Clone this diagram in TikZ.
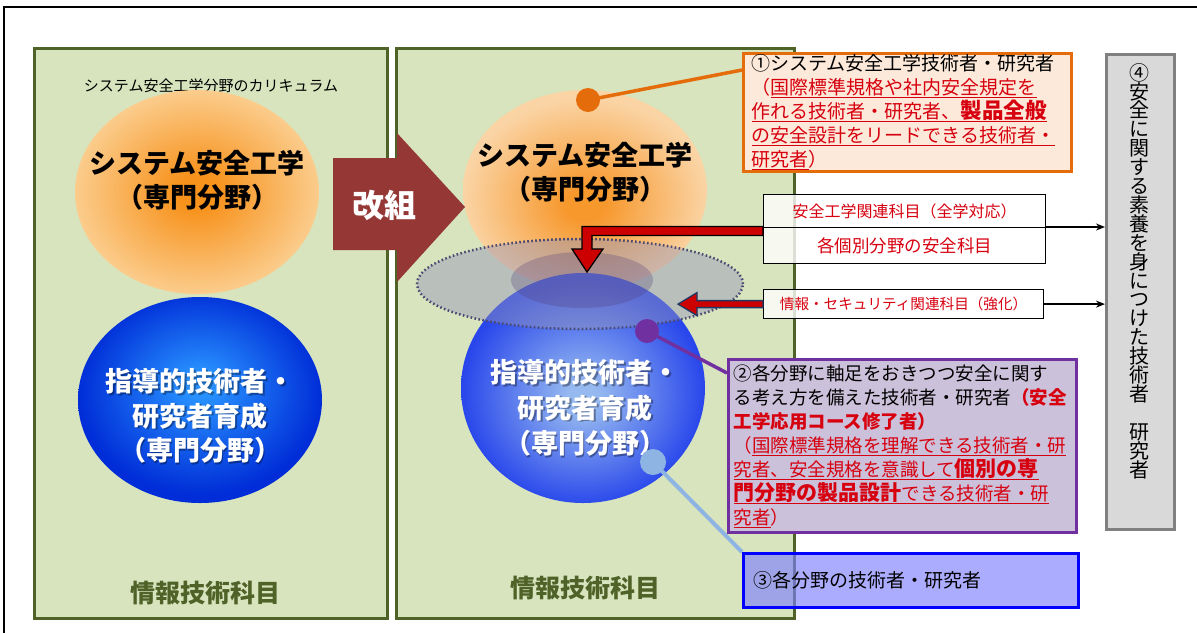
\documentclass[tikz,border=0pt]{standalone}
\usepackage{fontspec}
\setmainfont{Noto Sans CJK JP}
\usetikzlibrary{arrows.meta,calc,shapes.geometric}
\newcommand\myul[1]{\leavevmode\setbox0\hbox{#1}\rlap{\rule[-3.5pt]{\wd0}{1.1pt}}\box0}
\definecolor{pfill}{RGB}{215,228,189}
\definecolor{pborder}{RGB}{79,98,40}
\definecolor{kred}{RGB}{149,55,53}
\definecolor{oline}{RGB}{228,108,10}
\definecolor{obox}{RGB}{253,233,217}
\definecolor{purp}{RGB}{112,48,160}
\definecolor{pbox}{RGB}{204,193,218}
\definecolor{lblue}{RGB}{142,180,227}
\definecolor{bbox}{RGB}{128,128,255}
\definecolor{gfill}{RGB}{217,217,217}
\definecolor{gline}{RGB}{128,128,128}
\definecolor{tred}{RGB}{215,0,15}
\definecolor{arred}{RGB}{204,0,0}
\definecolor{navy}{RGB}{31,56,100}
\definecolor{oin}{RGB}{247,146,28}
\definecolor{oout}{RGB}{251,204,140}
\definecolor{oinb}{RGB}{247,152,45}
\definecolor{ooutb}{RGB}{250,212,165}
\definecolor{bin}{RGB}{40,145,255}
\definecolor{bout}{RGB}{0,45,215}
\definecolor{binb}{RGB}{150,185,240}
\definecolor{boutb}{RGB}{40,70,235}
\pgfdeclareradialshading{oball}{\pgfpoint{0bp}{0bp}}{color(0bp)=(oin); color(4bp)=(oin); color(25bp)=(oout); color(50bp)=(oout)}
\pgfdeclareradialshading{oballb}{\pgfpoint{0bp}{-4bp}}{color(0bp)=(oinb); color(4bp)=(oinb); color(25bp)=(ooutb); color(50bp)=(ooutb)}
\pgfdeclareradialshading{bball}{\pgfpoint{0bp}{4bp}}{color(0bp)=(bin); color(3bp)=(bin); color(25bp)=(bout); color(50bp)=(bout)}
\pgfdeclareradialshading{bballb}{\pgfpoint{0bp}{-2bp}}{color(0bp)=(binb); color(3bp)=(binb); color(25bp)=(boutb); color(50bp)=(boutb)}
\begin{document}
\lineskiplimit=-50pt
\begin{tikzpicture}[x=1pt,y=-1pt,
  panel/.style={draw=pborder, line width=3pt, fill=pfill, anchor=north west, inner sep=0},
  ball/.style={ellipse, inner sep=0, shade},
  dotnode/.style={circle, inner sep=0, minimum size=24pt},
  bigtxt/.style={align=center, font=\bfseries\fontsize{27}{34}\selectfont},
  wtxt/.style={align=center, text=white, font=\bfseries\fontsize{27}{34.5}\selectfont},
  shtxt/.style={align=center, text=black, text opacity=0.35, font=\bfseries\fontsize{27}{34.5}\selectfont},
  ptxt/.style={text=pborder, font=\bfseries\fontsize{25}{30}\selectfont},
  subj/.style={draw=black, line width=1.2pt, fill=white, fill opacity=0.8, text opacity=1, text=tred, inner sep=0, anchor=north west},
  infobox/.style={anchor=north west, line width=3pt, align=left, inner ysep=0, font=\fontsize{19}{24}\selectfont},
  conn/.style={line width=3.5pt}
]
\useasboundingbox (0,0) rectangle (1197,633);
\draw[line width=2pt] (4,633) -- (4,7) -- (1197,7);

% panels
\node[panel, minimum width=353, minimum height=570] (lpanel) at (33,47) {};
\node[panel, minimum width=398, minimum height=570] (mpanel) at (395,47) {};

% left panel
\node[font=\fontsize{15}{18}\selectfont] (cap) at (211,86) {システム安全工学分野のカリキュラム};
\node[ball, shading=oball, minimum width=244, minimum height=204] (lorange) at (197,192) {};
\node[bigtxt] (lotext) at (197,180) {システム安全工学\\（専門分野）};
\node[ball, shading=bball, minimum width=244, minimum height=206] (lblueb) at (200,400) {};
\node[shtxt] (lbsh) at (201.5,417.5) {指導的技術者・\\研究者育成\\（専門分野）};
\node[wtxt] (lbtext) at (200,416) {指導的技術者・\\研究者育成\\（専門分野）};
\node[ptxt] (linfo) at (205,593) {情報技術科目};

% middle panel circles
\node[ball, shading=oballb, minimum width=244, minimum height=200] (morange) at (585,190) {};
\node[ball, shading=bballb, minimum width=244, minimum height=230] (mblue) at (583,388) {};
\node[ellipse, fill={rgb,255:red,150;green,150;blue,185}, fill opacity=0.45, draw={rgb,255:red,75;green,75;blue,115}, draw opacity=1, line width=2.5pt, dash pattern=on 1.6pt off 2.4pt, minimum width=326, minimum height=90, inner sep=0] (dotell) at (580,284) {};
\node[ellipse, fill={rgb,255:red,80;green,60;blue,120}, fill opacity=0.28, minimum width=142, minimum height=56, inner sep=0] (overlap) at (582,280) {};
\node[bigtxt] (motext) at (585,172.5) {システム安全工学\\（専門分野）};
\node[shtxt, font=\bfseries\fontsize{27}{35.5}\selectfont] (mbsh) at (586.5,409.5) {指導的技術者・\\研究者育成\\（専門分野）};
\node[wtxt, font=\bfseries\fontsize{27}{35.5}\selectfont] (mbtext) at (585,408) {指導的技術者・\\研究者育成\\（専門分野）};
\node[ptxt] (minfo) at (585,588) {情報技術科目};

% kaiso arrow
\fill[kred] (333,158) -- (397,158) -- (397,133) -- (465,207) -- (397,282) -- (397,250) -- (333,250) -- cycle;
\node[text=white, font=\bfseries\fontsize{32}{36}\selectfont] (kaiso) at (384,205) {改組};

% subject boxes
\node[subj, minimum width=282, minimum height=33, font=\fontsize{16}{20}\selectfont] (boxA) at (763,194) {安全工学関連科目（全学対応）};
\node[subj, minimum width=282, minimum height=36, font=\fontsize{17.5}{20}\selectfont] (boxB) at (763,227) {各個別分野の安全科目};
\node[subj, minimum width=280, minimum height=29, font=\fontsize{14.6}{18}\selectfont] (boxC) at (763,289) {情報・セキュリティ関連科目（強化）};

% red arrows
\coordinate (ra) at (boxB.north west);
\filldraw[fill=arred, draw=black, line width=1.3pt, line join=miter] ($(ra)+(0,-0.5)$) -- ++(-181,0) -- ++(0,22.5) -- ++(-10,0) -- ++(15,23) -- ++(16,-23) -- ++(-11,0) -- ++(0,-13.5) -- ++(171,0) -- cycle;
\coordinate (rb) at (boxC.west);
\filldraw[fill=arred, draw=navy, line width=1.3pt, line join=miter] ($(rb)+(0,-3.5)$) -- ++(-66,0) -- ++(0,-8) -- ++(-19,11.5) -- ++(19,11.5) -- ++(0,-8) -- ++(66,0) -- cycle;

% gray box 4
\node[draw=gline, fill=gfill, line width=3pt, anchor=north west, minimum width=68, minimum height=475, inner sep=0] (gray) at (1105,53) {};
\node[anchor=north, align=center, inner sep=0, font=\fontsize{20}{18.9}\selectfont] (t4) at (1139,63) {④\\安\\全\\に\\関\\す\\る\\素\\養\\を\\身\\に\\つ\\け\\た\\技\\術\\者\\[18.9pt]研\\究\\者};

\draw[line width=1.5pt, -{Stealth[length=9pt,width=7pt]}] (boxB.north east) -- (gray.west |- boxB.north east);
\draw[line width=1.5pt, -{Stealth[length=9pt,width=7pt]}] (boxC.east) -- (gray.west |- boxC.east);

% box 1
\node[infobox, draw=oline, fill=obox, text width=312pt, inner xsep=8pt, minimum height=118] (box1) at (742,52) {①システム安全工学技術者・研究者\\
\color{tred}（\myul{国際標準規格や社内安全規定を}\\
\myul{作れる技術者・研究者、{\bfseries\fontsize{21.5}{24}\selectfont 製品全般}}\\
\myul{の安全設計をリードできる技術者・}\\
\myul{研究者}）};

% box 2
\node[infobox, draw=purp, fill=pbox, text width=338pt, inner xsep=5pt, minimum height=173, font=\fontsize{18.5}{24}\selectfont] (box2) at (727,358) {②各分野に軸足をおきつつ安全に関す\\
る考え方を備えた技術者・研究者{\color{tred}\bfseries （安全}\\
{\color{tred}\bfseries 工学応用コース修了者）}\\
\color{tred}（\myul{国際標準規格を理解できる技術者・研}\\
\myul{究者、安全規格を意識して{\bfseries\fontsize{21}{24}\selectfont 個別の専}}\\
\myul{{\bfseries\fontsize{21}{24}\selectfont 門分野の製品設計}できる技術者・研}\\
\myul{究者}）};

% box 3
\node[infobox, draw={rgb,255:red,0;green,0;blue,255}, fill=bbox, fill opacity=0.65, text opacity=1, text width=315pt, inner xsep=10pt, minimum height=54] (box3) at (742,552) {③各分野の技術者・研究者};

% connectors with dots
\node[dotnode, fill=oline] (odot) at (588,100) {};
\node[dotnode, fill=purp] (pdot) at (647,331) {};
\node[dotnode, fill=lblue, minimum size=26pt] (bdot) at (653,462) {};
\coordinate (o1end) at ($(box1.north west)+(0,18)$);
\coordinate (p1end) at ($(box2.north west)+(0,15)$);
\draw[conn, draw=oline] (odot.center) -- (o1end);
\draw[conn, draw=purp] (pdot.center) -- (p1end);
\draw[conn, draw=lblue, line width=4pt] (bdot.center) -- (box3.north west);
\end{tikzpicture}
\end{document}
